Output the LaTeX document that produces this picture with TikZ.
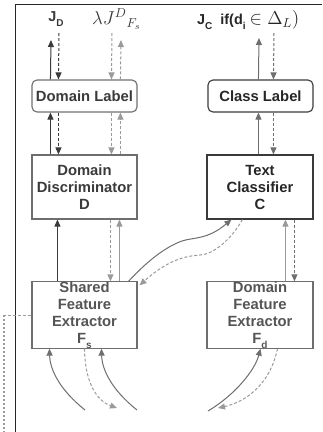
\documentclass[tikz,border=0pt]{standalone}
\usepackage{fontspec}
\setmainfont{Liberation Sans}
\usetikzlibrary{arrows.meta}
\definecolor{dk}{HTML}{3A3A3A}
\definecolor{md}{HTML}{6E6E6E}
\definecolor{lt}{HTML}{9A9A9A}
\definecolor{tx}{HTML}{555555}
\newcommand{\sbs}[1]{\raisebox{-0.3em}{\fontsize{10}{10}\selectfont #1}}
\tikzset{
  box/.style={draw=#1, line width=1.1pt, minimum width=105pt, minimum height=64pt,
    inner sep=0pt, align=center, font=\bfseries\fontsize{14.8}{17}\selectfont},
  lbl/.style={inner sep=0pt, font=\bfseries\fontsize{14.4}{17}\selectfont},
  tip/.style={-{Triangle[length=7pt,width=6pt]}},
  sol/.style={tip, line width=1pt},
  dsh/.style={tip, line width=1pt, dash pattern=on 3pt off 2pt},
}
\begin{document}
\begin{tikzpicture}[x=1pt,y=-1pt]
\useasboundingbox (0,0) rectangle (322,432);
\draw[black!85, line width=1pt] (15,432) -- (15,4) -- (322,4);

% boxes
\node[box=md, rounded corners=5pt, minimum height=32pt, text=dk] (DL) at (84.5,96) {Domain Label};
\node[box=dk, rounded corners=5pt, minimum height=32pt, text=black!85] (CL) at (260.5,96) {Class Label};
\node[box=md, text=dk] (DD) at (84.5,187) {Domain\\Discriminator\\D};
\node[box=dk, minimum width=106pt, text=black!85] (TC) at (260,187) {Text\\Classifier\\C};
\node[box=md, text=tx] (SF) at (84.5,315) {Shared\\Feature\\Extractor\\F\sbs{s}};
\node[box=md, text=tx, minimum width=106pt] (DF) at (260,315) {Domain\\Feature\\Extractor\\F\sbs{d}};

% labels
\node[lbl, text=dk] (JD) at (56,19) {J\sbs{D}};
\node[lbl, text=dk, anchor=west] (LJ) at (92,19) {\scalebox{1.3}{$\lambda {J^D}_{F_s}$}};
\node[lbl, text=black!85, anchor=west] (JC) at (197,20) {J\sbs{C}\ \ if(d\sbs{i}\ \scalebox{1.3}{$\in \Delta_L)$}};

% free ends
\coordinate (t1) at (51,40);
\coordinate (t2) at (59,33);
\coordinate (t3) at (112,33);
\coordinate (t4) at (121,40);
\coordinate (t5) at (259,38);
\coordinate (t6) at (274,33);
\coordinate (b1) at (85,410);
\coordinate (b2) at (137,410);
\coordinate (b3) at (117,408);
\coordinate (b4) at (208,411);
\coordinate (b5) at (218,408);
\coordinate (d1) at (4,315);
\coordinate (d2) at (4,432);

% top of left column
\draw[sol,dk] ([xshift=19pt]DL.north west) -- (t1);
\draw[dsh,dk] (t2) -- ([xshift=27pt]DL.north west);
\draw[dsh,lt] (t3) -- ([xshift=80pt]DL.north west);
\draw[dsh,lt] ([xshift=89pt]DL.north west) -- (t4);
% DL - DD
\draw[sol,dk] ([xshift=19pt]DD.north west) -- ([xshift=19pt]DL.south west);
\draw[dsh,dk] ([xshift=27pt]DL.south west) -- ([xshift=27pt]DD.north west);
\draw[dsh,lt] ([xshift=80pt]DL.south west) -- ([xshift=80pt]DD.north west);
\draw[dsh,lt] ([xshift=89pt]DD.north west) -- ([xshift=89pt]DL.south west);
% DD - SF
\draw[sol,dk] ([xshift=26pt]SF.north west) -- ([xshift=26pt]DD.south west);
\draw[dsh,lt] ([xshift=79pt]DD.south west) -- ([xshift=79pt]SF.north west);
\draw[sol,lt] ([xshift=88pt]SF.north west) -- ([xshift=88pt]DD.south west);

% right column
\draw[sol,md] ([xshift=51pt]CL.north west) -- (t5);
\draw[dsh,md] (t6) -- ([xshift=66pt]CL.north west);
\draw[sol,md] ([xshift=52pt]TC.north west) -- ([xshift=51pt]CL.south west);
\draw[dsh,md] ([xshift=66pt]CL.south west) -- ([xshift=67pt]TC.north west);
\draw[sol,lt] ([xshift=79pt]DF.north west) -- ([xshift=79pt]TC.south west);
\draw[dsh,md] ([xshift=88pt]TC.south west) -- ([xshift=88pt]DF.north west);

% cross curves
\draw[sol,md] ([xshift=-9pt]SF.north east) .. controls (150,258) and (168,246) .. (182,241)
  .. controls (194,237) and (207,240) .. ([xshift=25pt]TC.south west);
\draw[dsh,lt] ([xshift=36pt]TC.south west) .. controls (232,238) and (215,254) .. (200,255)
  .. controls (188,256) and (170,258) .. ([xshift=2pt,yshift=-4pt]SF.north east);

% bottom curves
\draw[sol,md] (b1) .. controls (60,390) and (50,370) .. ([xshift=18pt]SF.south west);
\draw[sol,md] (b2) .. controls (112,390) and (102,370) .. ([xshift=70pt]SF.south west);
\draw[dsh,lt] ([xshift=53pt]SF.south west) .. controls (85,380) and (95,400) .. (b3);
\draw[sol,md] (b4) .. controls (235,395) and (255,370) .. ([xshift=54pt]DF.south west);
\draw[dsh,lt] ([xshift=71pt]DF.south west) .. controls (270,385) and (245,402) .. (b5);

% left dotted line
\draw[lt, line width=1pt, dash pattern=on 3pt off 2pt] (SF.west) -- (d1);
\draw[lt, line width=1.3pt, dash pattern=on 2pt off 2pt] (d1) -- (d2);
\end{tikzpicture}
\end{document}
